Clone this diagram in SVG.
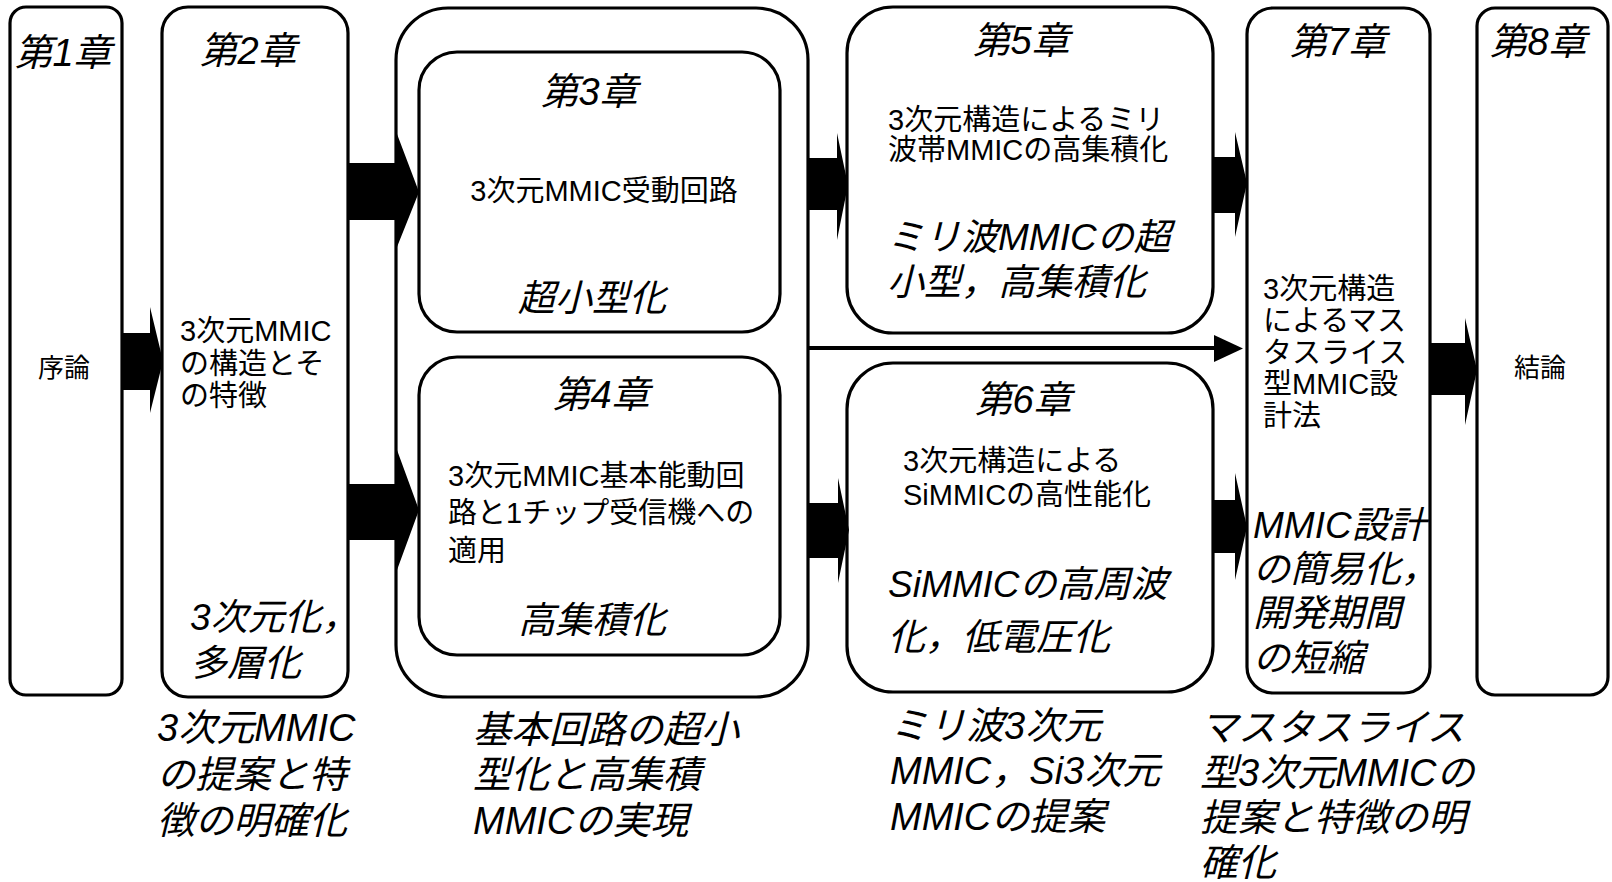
<svg xmlns="http://www.w3.org/2000/svg" width="1612" height="882" viewBox="0 0 1612 882">
<style>
  .box { fill: #fff; stroke: #000; stroke-width: 3.2; }
  .t { font-family: "Liberation Sans", "Noto Sans CJK JP", sans-serif; fill: #000; }
  .title { font-size: 38px; font-style: italic; text-anchor: middle; }
  .body { font-size: 29px; }
  .mid { text-anchor: middle; }
  .it { font-size: 37px; font-style: italic; }
  .lab { font-size: 38px; font-style: italic; }
  .arr { fill: #000; stroke: none; }
</style>

<g id="node-ch1">
  <rect class="box" x="10" y="7" width="112" height="688" rx="16"/>
  <text class="t title" x="63" y="66">第1章</text>
  <text class="t mid" style="font-size:26px" x="64" y="377">序論</text>
</g>

<g id="node-ch2">
  <rect class="box" x="162" y="7" width="186" height="690" rx="26"/>
  <text class="t title" x="248" y="64">第2章</text>
  <text class="t body" x="180" y="341">3次元MMIC</text>
  <text class="t body" x="180" y="374">の構造とそ</text>
  <text class="t body" x="180" y="406">の特徴</text>
  <text class="t it" x="190" y="630">3次元化，</text>
  <text class="t it" x="190" y="676">多層化</text>
  <text class="t lab" x="157" y="741">3次元MMIC</text>
  <text class="t lab" x="157" y="788">の提案と特</text>
  <text class="t lab" x="157" y="834">徴の明確化</text>
</g>

<g id="node-ch34">
  <rect class="box" x="396" y="8" width="412" height="689" rx="52"/>
  <text class="t lab" x="473" y="743">基本回路の超小</text>
  <text class="t lab" x="473" y="788">型化と高集積</text>
  <text class="t lab" x="473" y="834">MMICの実現</text>
</g>

<g id="node-ch3">
  <rect class="box" x="419" y="52" width="361" height="280" rx="38"/>
  <text class="t title" x="589" y="105">第3章</text>
  <text class="t body mid" x="604" y="201">3次元MMIC受動回路</text>
  <text class="t it mid" x="592" y="311">超小型化</text>
</g>

<g id="node-ch4">
  <rect class="box" x="419" y="357" width="361" height="298" rx="38"/>
  <text class="t title" x="601" y="408">第4章</text>
  <text class="t body" x="448" y="486">3次元MMIC基本能動回</text>
  <text class="t body" x="448" y="523">路と1チップ受信機への</text>
  <text class="t body" x="448" y="561">適用</text>
  <text class="t it mid" x="592" y="633">高集積化</text>
</g>

<g id="node-ch5">
  <rect class="box" x="847" y="7" width="366" height="326" rx="46"/>
  <text class="t title" x="1021" y="54">第5章</text>
  <text class="t body" x="888" y="130">3次元構造によるミリ</text>
  <text class="t body" x="888" y="160">波帯MMICの高集積化</text>
  <text class="t it" x="887" y="250">ミリ波MMICの超</text>
  <text class="t it" x="887" y="295">小型，高集積化</text>
</g>

<g id="node-ch6">
  <rect class="box" x="847" y="363" width="366" height="329" rx="46"/>
  <text class="t title" x="1023" y="413">第6章</text>
  <text class="t body" x="903" y="471">3次元構造による</text>
  <text class="t body" x="903" y="505">SiMMICの高性能化</text>
  <text class="t it" x="888" y="597">SiMMICの高周波</text>
  <text class="t it" x="888" y="650">化，低電圧化</text>
  <text class="t lab" x="890" y="739">ミリ波3次元</text>
  <text class="t lab" x="890" y="784">MMIC，Si3次元</text>
  <text class="t lab" x="890" y="830">MMICの提案</text>
</g>

<g id="node-ch7">
  <rect class="box" x="1247" y="8" width="183" height="685" rx="26"/>
  <text class="t title" x="1338" y="55">第7章</text>
  <text class="t body" x="1263" y="299">3次元構造</text>
  <text class="t body" x="1263" y="331">によるマス</text>
  <text class="t body" x="1263" y="363">タスライス</text>
  <text class="t body" x="1263" y="394">型MMIC設</text>
  <text class="t body" x="1263" y="426">計法</text>
  <text class="t it" x="1253" y="538">MMIC設計</text>
  <text class="t it" x="1253" y="582">の簡易化，</text>
  <text class="t it" x="1253" y="626">開発期間</text>
  <text class="t it" x="1253" y="671">の短縮</text>
  <text class="t lab" x="1200" y="741">マスタスライス</text>
  <text class="t lab" x="1200" y="786">型3次元MMICの</text>
  <text class="t lab" x="1200" y="831">提案と特徴の明</text>
  <text class="t lab" x="1200" y="876">確化</text>
</g>

<g id="node-ch8">
  <rect class="box" x="1477" y="8" width="131" height="687" rx="18"/>
  <text class="t title" x="1538" y="55">第8章</text>
  <text class="t mid" style="font-size:26px" x="1540" y="377">結論</text>
</g>

<g id="connectors">
  <polygon class="arr" points="122,333 150,333 150,307 163,361 150,413 150,390 122,390"/>
  <polygon class="arr" points="348,163 397,163 397,134 419,192 397,247 397,220 348,220"/>
  <polygon class="arr" points="348,484 397,484 397,450 419,510 397,570 397,540 348,540"/>
  <polygon class="arr" points="808,158 837,158 837,133 848,185 837,240 837,210 808,210"/>
  <polygon class="arr" points="808,503 838,503 838,478 849,530 838,583 838,558 808,558"/>
  <polygon class="arr" points="1213,157 1235,157 1235,132 1247,183 1235,237 1235,213 1213,213"/>
  <polygon class="arr" points="1213,500 1235,500 1235,473 1247,527 1235,580 1235,553 1213,553"/>
  <polygon class="arr" points="1430,343 1465,343 1465,318 1477,370 1465,425 1465,395 1430,395"/>
  <line x1="808" y1="348" x2="1218" y2="348" stroke="#000" stroke-width="4"/>
  <polygon class="arr" points="1214,335 1243,348.5 1214,362"/>
</g>
</svg>
